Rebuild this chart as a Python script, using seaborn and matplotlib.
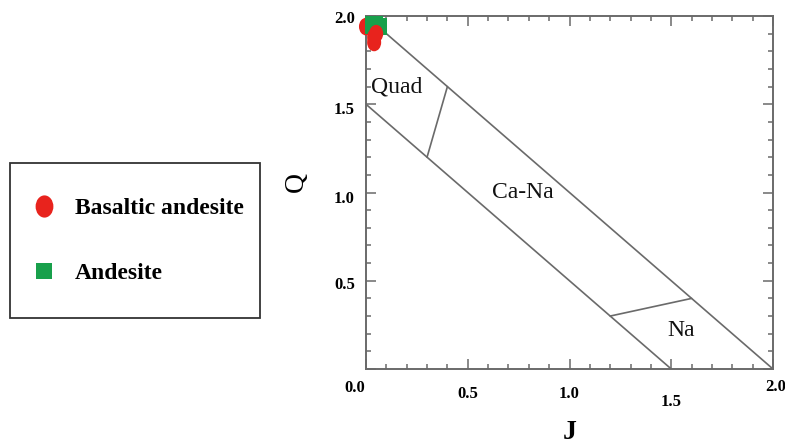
import numpy as np
import pandas as pd
import matplotlib
matplotlib.use("Agg")
import matplotlib.pyplot as plt
import matplotlib.transforms as mtransforms
import seaborn as sns
from matplotlib.path import Path
from matplotlib.lines import Line2D
from matplotlib.ticker import MultipleLocator

sns.set_theme(style="ticks")
plt.rcParams['font.family'] = ['Liberation Serif', 'DejaVu Serif']

# ── data ──────────────────────────────────────────────────────────
# draw order matters a little: the points overlap near (0, 2)
rock = ["Basaltic andesite", "Andesite", "Andesite",
        "Basaltic andesite", "Basaltic andesite", "Basaltic andesite"]
j_vals = [0.00, 0.04, 0.06, 0.04, 0.04, 0.05]
q_vals = [1.94, 1.95, 1.94, 1.88, 1.85, 1.90]

# field boundaries of the Q-J diagram
outer_j, outer_q = [0.0, 2.0], [2.0, 0.0]
inner_j, inner_q = [0.0, 1.5], [1.5, 0.0]
quad_j, quad_q = [0.3, 0.4], [1.2, 1.6]
na_j, na_q = [1.2, 1.6], [0.3, 0.4]

field_names = ["Quad", "Ca-Na", "Na"]
field_j = [0.15, 0.77, 1.55]
field_q = [1.60, 1.00, 0.22]

x_ticks = [0.0, 0.5, 1.0, 1.5, 2.0]
y_ticks = [0.0, 0.5, 1.0, 1.5, 2.0]

RED = "#e8231d"
GREEN = "#18a04b"
GREY = "#6a6a6a"

df = pd.DataFrame({"J": j_vals, "Q": q_vals, "rock": rock})

# slightly tall ellipse marker for the basaltic andesite points
circ = Path.unit_circle()
ellipse = Path(circ.vertices * np.array([0.8, 1.0]), circ.codes)

fig = plt.figure(figsize=(7.85, 4.46), dpi=100)
ax = fig.add_axes([366 / 785, 1 - 369 / 446, 407 / 785, 353 / 446])

# field lines
for xs, ys in [(outer_j, outer_q), (inner_j, inner_q), (quad_j, quad_q), (na_j, na_q)]:
    ax.plot(xs, ys, color=GREY, lw=1.2, zorder=1)

for name, fj, fq in zip(field_names, field_j, field_q):
    ax.text(fj, fq, name, fontsize=17, ha="center", va="center", color="#111111")

sns.scatterplot(data=df, x="J", y="Q", hue="rock", style="rock",
                palette={"Basaltic andesite": RED, "Andesite": GREEN},
                markers={"Basaltic andesite": ellipse, "Andesite": "s"},
                s=160, linewidth=0, edgecolor="none", legend=False,
                ax=ax, zorder=3, clip_on=False)

ax.set_xlim(0, 2)
ax.set_ylim(0, 2)
ax.xaxis.set_minor_locator(MultipleLocator(0.1))
ax.yaxis.set_minor_locator(MultipleLocator(0.1))
ax.set_xticks(x_ticks)
ax.set_yticks(y_ticks)
ax.set_xticklabels([f"{v:.1f}" for v in x_ticks], fontweight="bold", fontsize=12)
ax.set_yticklabels([f"{v:.1f}" if v > 0 else "" for v in y_ticks],
                   fontweight="bold", fontsize=12)

ax.tick_params(which="both", direction="in", top=True, right=True,
               color=GREY, width=1.1, labelcolor="black")
ax.tick_params(which="major", length=7)
ax.tick_params(which="minor", length=3.5)
ax.tick_params(axis="x", which="major", pad=12)
ax.tick_params(axis="y", which="major", pad=8)

for sp in ax.spines.values():
    sp.set_color(GREY)
    sp.set_linewidth(1.4)

ax.set_xlabel("J", fontsize=20, fontweight="bold", color="black")
ax.set_ylabel("Q", fontsize=20, color="black")
ax.xaxis.set_label_coords(0.5, -0.145)
ax.yaxis.set_label_coords(-0.14, 0.53)

# the tick labels in the original sit a bit unevenly
x_shift = {0.0: (-11, 6), 0.5: (0, 0), 1.0: (0, 0), 1.5: (0, -8), 2.0: (3, 7)}
for tick, v in zip(ax.xaxis.get_major_ticks(), x_ticks):
    dx, dy = x_shift[v]
    tick.label1.set_transform(tick.label1.get_transform()
                              + mtransforms.ScaledTranslation(dx / 100, dy / 100, fig.dpi_scale_trans))
y_shift = {0.0: 0, 0.5: -2, 1.0: -5, 1.5: -4, 2.0: -1}
for tick, v in zip(ax.yaxis.get_major_ticks(), y_ticks):
    tick.label1.set_transform(tick.label1.get_transform()
                              + mtransforms.ScaledTranslation(0, y_shift[v] / 100, fig.dpi_scale_trans))

# legend in its own box on the left
handles = [
    Line2D([], [], ls="none", marker=ellipse, markersize=16, color=RED, markeredgewidth=0),
    Line2D([], [], ls="none", marker="s", markersize=12, color=GREEN, markeredgewidth=0),
]
leg = fig.legend(handles, ["Basaltic andesite", "Andesite"],
                 loc="upper left", bbox_to_anchor=(10 / 785, 1 - 163 / 446, 250 / 785, 0),
                 mode="expand", borderaxespad=0, borderpad=1.45, labelspacing=1.85,
                 handlelength=0, handletextpad=1.3, fancybox=False, framealpha=1,
                 labelcolor="black",
                 prop={"family": "Liberation Serif", "weight": "bold", "size": 17})
leg.get_frame().set_edgecolor("#333333")
leg.get_frame().set_linewidth(1.3)

fig.savefig("out.png", dpi=100)
